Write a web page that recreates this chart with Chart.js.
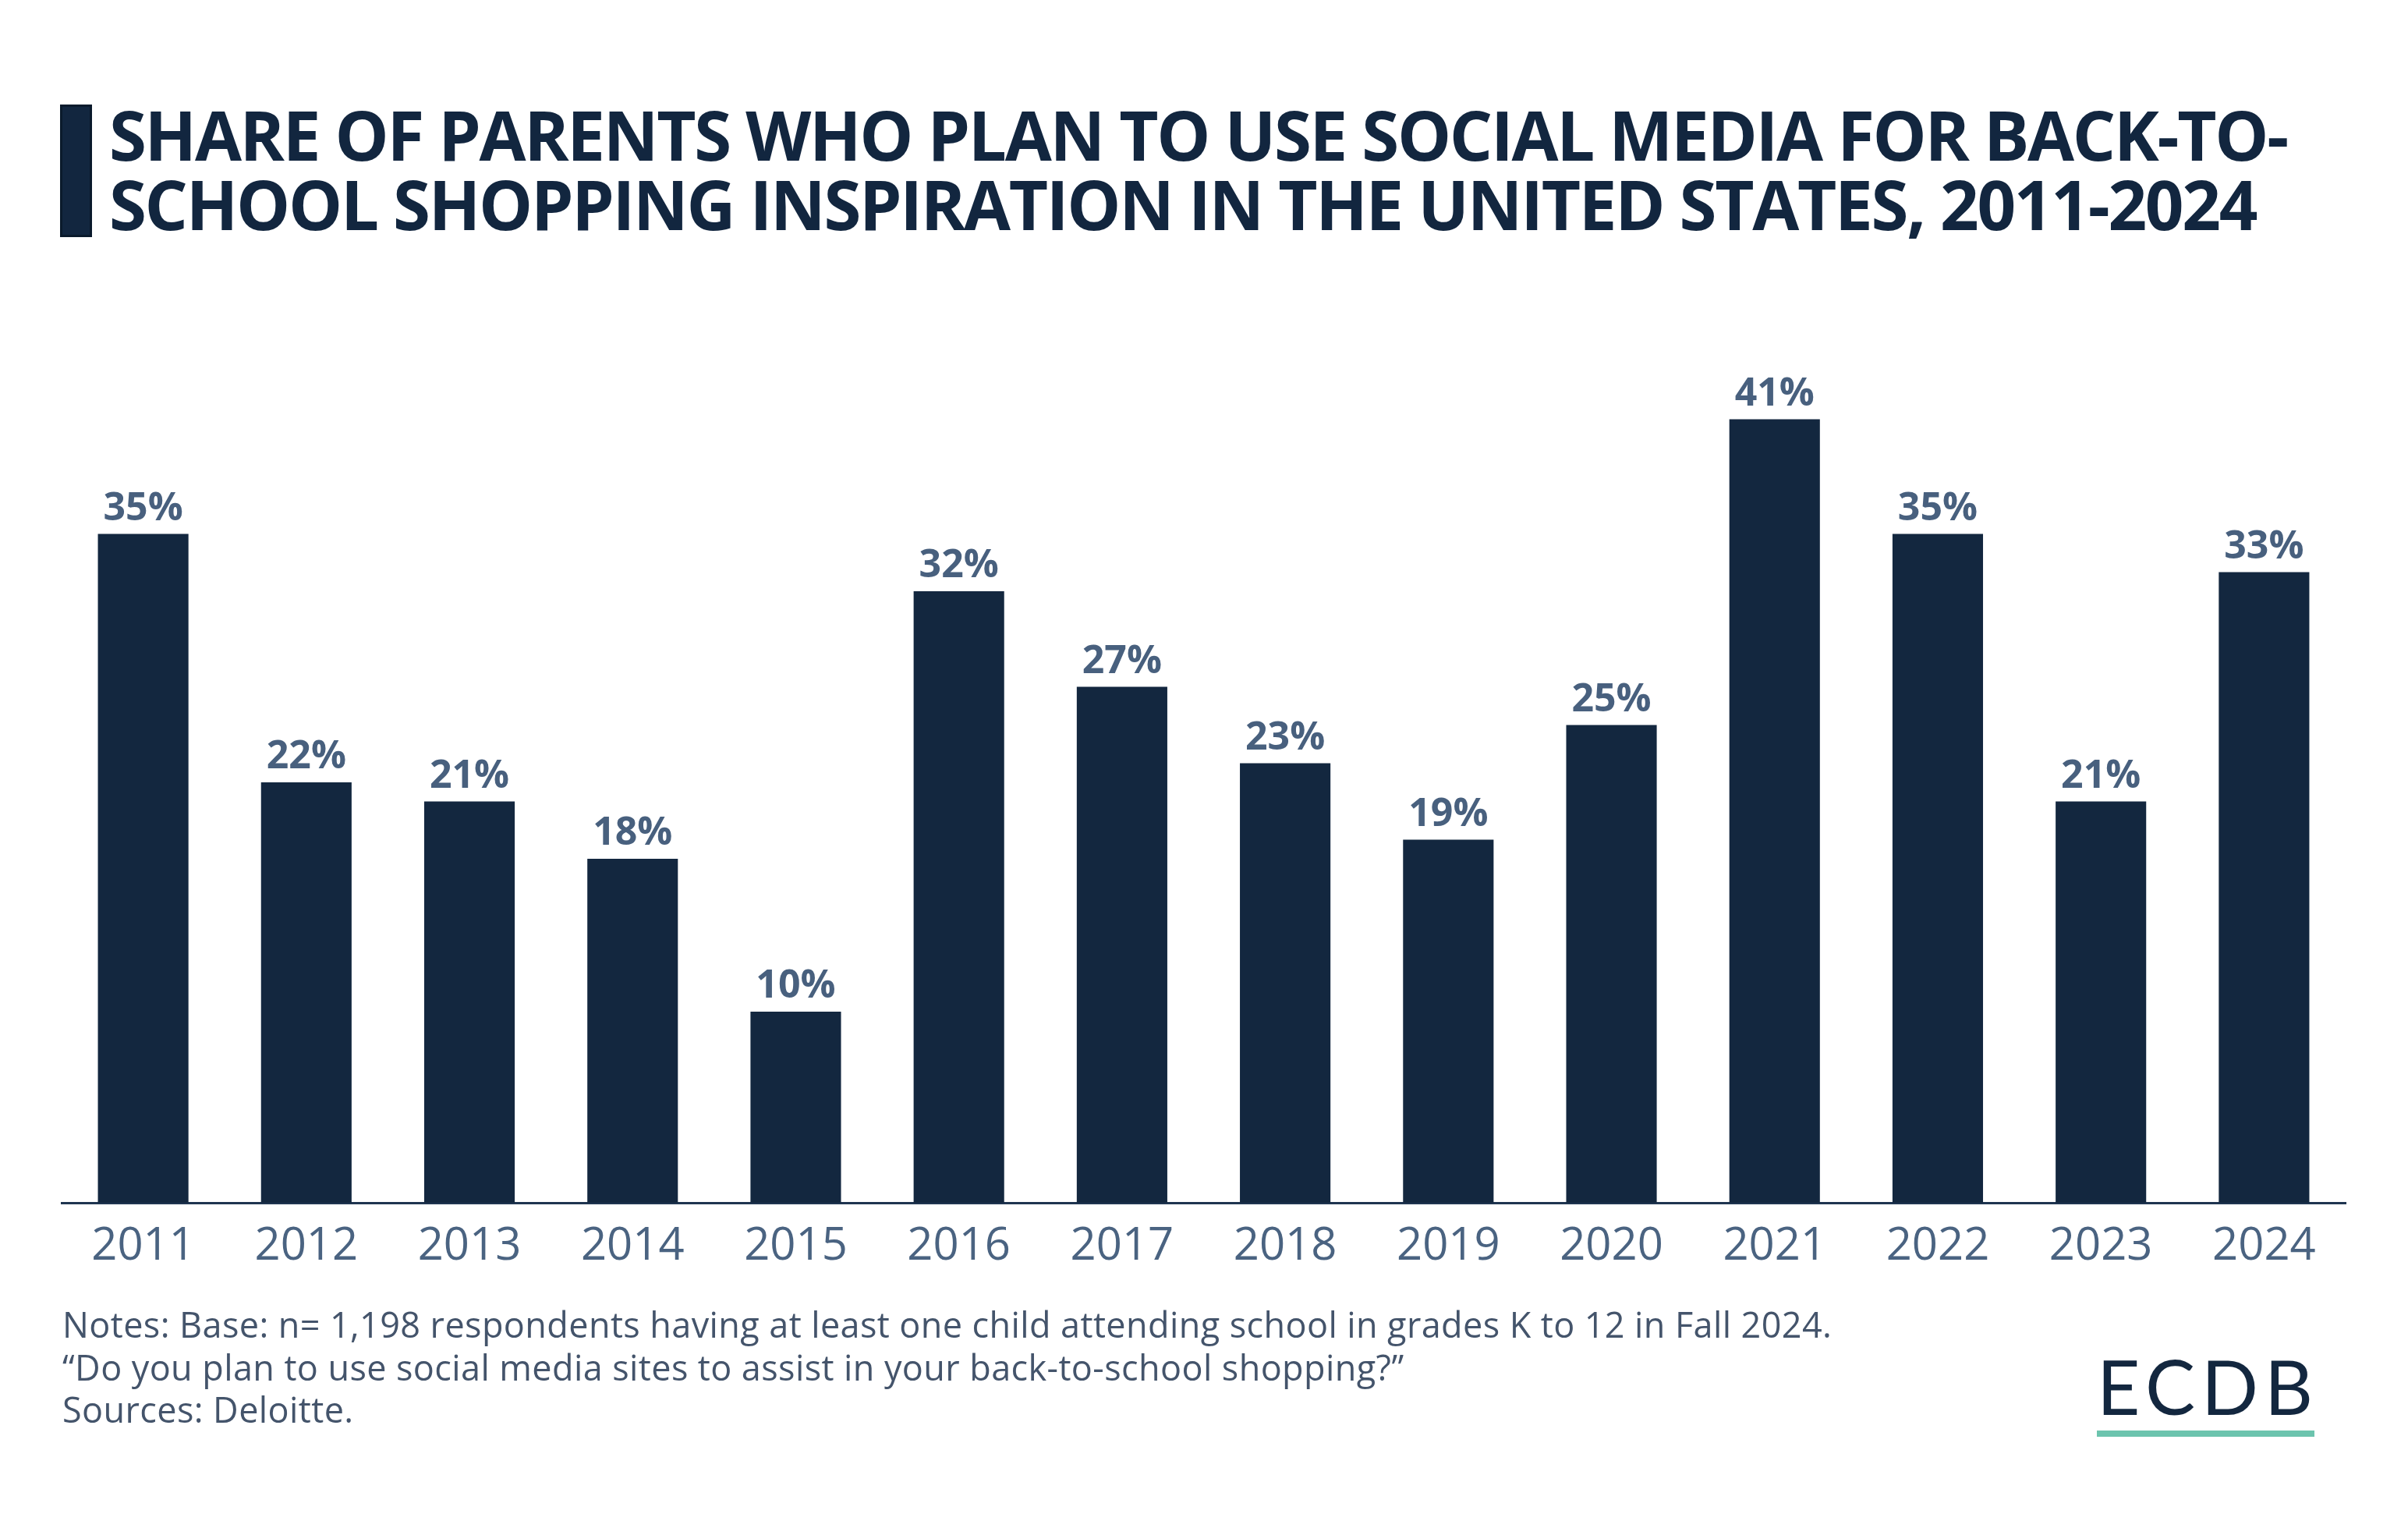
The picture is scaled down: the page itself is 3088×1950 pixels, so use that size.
<!DOCTYPE html>
<html>
<head>
<meta charset="utf-8">
<script src="https://cdn.jsdelivr.net/npm/chart.js@4.4.1/dist/chart.umd.min.js"></script>
<style>
    html, body { margin: 0; padding: 0; background: #fff; }
    body { width: 3088px; height: 1950px; position: relative; overflow: hidden; font-family: 'Open Sans', sans-serif; }
    #chartBox { position: absolute; left: 0; top: 0; width: 3088px; height: 1950px; }
    .title-bar { position: absolute; left: 77px; top: 134px; width: 35px; height: 164px; background: #12263f; border: 3px solid #0a1a2c; }
    .title { position: absolute; left: 140px; top: 128px; font-weight: 700; font-size: 87px; line-height: 89px; letter-spacing: -2.3px; color: #12263f; white-space: nowrap; }
    .notes { position: absolute; left: 80px; top: 1671px; font-size: 45px; line-height: 54.5px; letter-spacing: 0.4px; color: #44546b; white-space: nowrap; }
    .logo { position: absolute; left: 2689px; top: 1729px; font-family: 'Lato', sans-serif; font-size: 96px; line-height: 96px; color: #13273f; letter-spacing: 8px; }
    .logo-line { position: absolute; left: 2689px; top: 1834px; width: 279px; height: 8px; background: #6cc4ae; }
</style>
</head>
<body>
<div class="title-bar"></div>
<div class="title">SHARE OF PARENTS WHO PLAN TO USE SOCIAL MEDIA FOR BACK-TO-<br>SCHOOL SHOPPING INSPIRATION IN THE UNITED STATES, 2011-2024</div>
<div id="chartBox"><canvas id="shareChart"></canvas></div>
<div class="notes">Notes: Base: n= 1,198 respondents having at least one child attending school in grades K to 12 in Fall 2024.<br>“Do you plan to use social media sites to assist in your back-to-school shopping?”<br>Sources: Deloitte.</div>
<div class="logo">ECDB</div>
<div class="logo-line"></div>

<script>
// 数据
const years = ['2011', '2012', '2013', '2014', '2015', '2016', '2017', '2018', '2019', '2020', '2021', '2022', '2023', '2024'];
const shares = [35, 22, 21, 18, 10, 32, 27, 23, 19, 25, 41, 35, 21, 33];
const yMax = 44;

// 柱顶数值标签
const valueLabels = {
    id: 'valueLabels',
    afterDatasetsDraw(chart) {
        const ctx = chart.ctx;
        const meta = chart.getDatasetMeta(0);
        ctx.save();
        ctx.font = 'bold 50px "Open Sans"';
        ctx.fillStyle = '#48607e';
        ctx.textAlign = 'center';
        ctx.textBaseline = 'alphabetic';
        meta.data.forEach((bar, i) => {
            ctx.fillText(shares[i] + '%', bar.x, bar.y - 18);
        });
        ctx.restore();
    }
};

new Chart(document.getElementById('shareChart'), {
    type: 'bar',
    data: {
        labels: years,
        datasets: [{
            data: shares,
            backgroundColor: '#13273f',
            categoryPercentage: 1,
            barPercentage: 0.555
        }]
    },
    options: {
        responsive: true,
        maintainAspectRatio: false,
        animation: false,
        events: [],
        layout: {
            padding: { left: 79, right: 80, top: 464, bottom: 278 }
        },
        plugins: {
            legend: { display: false },
            tooltip: { enabled: false }
        },
        scales: {
            x: {
                grid: { display: false, drawTicks: false },
                border: { display: true, color: '#1f3550', width: 3 },
                ticks: {
                    color: '#4a6381',
                    font: { family: 'Open Sans', size: 58 },
                    padding: 22,
                    maxRotation: 0,
                    autoSkip: false
                },
                afterFit(scale) {
                    scale.height = 130;
                }
            },
            y: {
                display: false,
                min: 0,
                max: yMax
            }
        }
    },
    plugins: [valueLabels]
});
</script>
</body>
</html>
